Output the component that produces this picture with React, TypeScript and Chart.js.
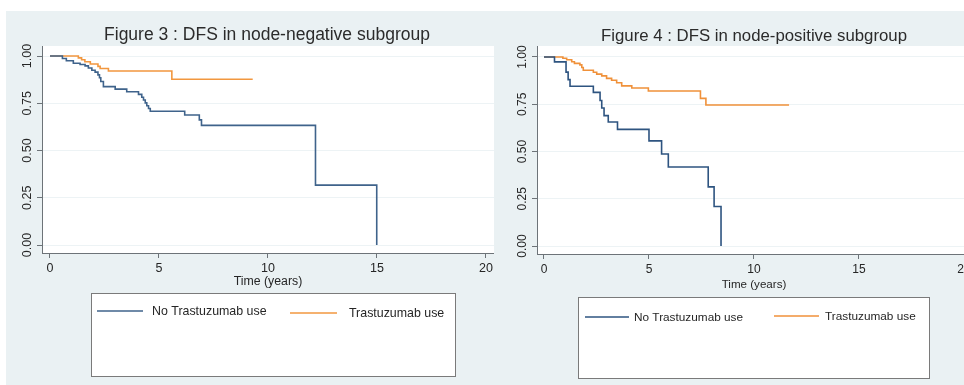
import React, { useEffect, useRef } from "react";
import { Chart, registerables } from "chart.js";

Chart.register(...registerables);

// ---- data ----
const xTicks = [0, 5, 10, 15, 20];
const yTicks = [0, 0.25, 0.5, 0.75, 1];
const yTickLabels = ["0.00", "0.25", "0.50", "0.75", "1.00"];
const seriesLabels = ["No Trastuzumab use", "Trastuzumab use"];
const titles = [
  "Figure 3 : DFS in node-negative subgroup",
  "Figure 4 : DFS in node-positive subgroup",
];
const xAxisTitle = "Time (years)";

// Figure 3 (node-negative)
const negNoTime = [0, 0.57, 0.75, 1.07, 1.38, 1.61, 1.76, 1.92, 2.07, 2.2, 2.27, 2.33, 2.45, 2.99, 3.52, 4.06, 4.21, 4.29, 4.37, 4.44, 4.52, 4.6, 6.18, 6.85, 6.95, 12.18, 14.99];
const negNoSurv = [1, 0.987, 0.975, 0.962, 0.955, 0.948, 0.937, 0.925, 0.915, 0.9, 0.885, 0.865, 0.838, 0.825, 0.811, 0.797, 0.782, 0.767, 0.752, 0.737, 0.722, 0.708, 0.688, 0.662, 0.633, 0.317, 0];
const negYesTime = [0, 1.3, 1.45, 1.6, 1.85, 2.2, 2.3, 2.68, 5.59, 9.3];
const negYesSurv = [1, 0.99, 0.98, 0.97, 0.958, 0.945, 0.934, 0.921, 0.877, 0.877];

// Figure 4 (node-positive)
const posNoTime = [0, 0.5, 1.05, 1.15, 1.24, 2.35, 2.67, 2.75, 2.86, 3.06, 3.5, 5.0, 5.6, 5.92, 7.82, 8.1, 8.43];
const posNoSurv = [1, 0.974, 0.92, 0.88, 0.845, 0.813, 0.77, 0.73, 0.69, 0.656, 0.617, 0.556, 0.487, 0.418, 0.313, 0.209, 0];
const posYesTime = [0, 0.9, 1.08, 1.32, 1.45, 1.71, 1.8, 1.87, 2.35, 2.51, 2.75, 2.98, 3.22, 3.46, 3.7, 4.18, 4.97, 7.45, 7.71, 11.67];
const posYesSurv = [1, 0.993, 0.985, 0.975, 0.966, 0.958, 0.944, 0.93, 0.919, 0.909, 0.9, 0.887, 0.877, 0.864, 0.847, 0.836, 0.82, 0.781, 0.746, 0.746];

// ---- styles ----
const BG = "#eaf1f3";
const FONT = "'Liberation Sans', Arial, Helvetica, sans-serif";
const AXIS = "#6d7378";
const GRID = "#edf3f5";
const TEXT = "#262626";

type Panel = {
  title: string;
  noTime: number[];
  noSurv: number[];
  yesTime: number[];
  yesSurv: number[];
  blue: string;
  orange: string;
  width: number;
  height: number;
  area: { left: number; top: number; right: number; bottom: number };
  xRange: [number, number];
  yRange: [number, number];
  titleFont: number;
  titlePos: [number, number];
  axisTitleFont: number;
  axisTitlePos: [number, number];
  tickFont: number;
  yLabelX: number;
  legendBox: [number, number, number, number];
  legendFont: number;
  legendItems: { x1: number; x2: number; y: number; tx: number; ty: number }[];
};

const panels: Panel[] = [
  {
    title: titles[0],
    noTime: negNoTime,
    noSurv: negNoSurv,
    yesTime: negYesTime,
    yesSurv: negYesSurv,
    blue: "#3f638b",
    orange: "#f2973f",
    width: 488,
    height: 374,
    area: { left: 36, top: 35, right: 488, bottom: 242 },
    xRange: [-0.367, 20.37],
    yRange: [-0.042, 1.053],
    titleFont: 17.5,
    titlePos: [261, 24],
    axisTitleFont: 12.3,
    axisTitlePos: [262, 271],
    tickFont: 12.5,
    yLabelX: 21.5,
    legendBox: [85, 282, 449, 365],
    legendFont: 12.4,
    legendItems: [
      { x1: 91, x2: 137, y: 300, tx: 146, ty: 300.5 },
      { x1: 284, x2: 331, y: 302, tx: 343, ty: 302.5 },
    ],
  },
  {
    title: titles[1],
    noTime: posNoTime,
    noSurv: posNoSurv,
    yesTime: posYesTime,
    yesSurv: posYesSurv,
    blue: "#2e5480",
    orange: "#f0913a",
    width: 470,
    height: 374,
    area: { left: 43, top: 35, right: 470, bottom: 243 },
    xRange: [-0.333, 20],
    yRange: [-0.042, 1.058],
    titleFont: 16.8,
    titlePos: [260, 25],
    axisTitleFont: 11.6,
    axisTitlePos: [260, 274],
    tickFont: 12,
    yLabelX: 28.5,
    legendBox: [84, 286, 435, 367],
    legendFont: 11.8,
    legendItems: [
      { x1: 91, x2: 135, y: 306, tx: 140, ty: 306.5 },
      { x1: 280, x2: 325, y: 305, tx: 331, ty: 305.5 },
    ],
  },
];

function toPoints(t: number[], s: number[]) {
  return t.map((x, i) => ({ x, y: s[i] }));
}

function PanelChart({ p, left }: { p: Panel; left: number }) {
  const ref = useRef<HTMLCanvasElement | null>(null);
  useEffect(() => {
    if (!ref.current) return;
    const deco = {
      id: "deco",
      beforeDraw(chart: any) {
        const { ctx, width, height, chartArea: a } = chart;
        ctx.save();
        ctx.fillStyle = BG;
        ctx.fillRect(0, 0, width, height);
        ctx.fillStyle = "#ffffff";
        ctx.fillRect(a.left, a.top, a.right - a.left, a.bottom - a.top);
        ctx.restore();
      },
      afterDraw(chart: any) {
        const { ctx } = chart;
        const yScale = chart.scales.y;
        ctx.save();
        // title
        ctx.fillStyle = "#2b2b2b";
        ctx.font = `${p.titleFont}px ${FONT}`;
        ctx.textAlign = "center";
        ctx.textBaseline = "middle";
        ctx.fillText(p.title, p.titlePos[0], p.titlePos[1]);
        // x axis title
        ctx.fillStyle = TEXT;
        ctx.font = `${p.axisTitleFont}px ${FONT}`;
        ctx.fillText(xAxisTitle, p.axisTitlePos[0], p.axisTitlePos[1]);
        // rotated y tick labels
        ctx.font = `${p.tickFont}px ${FONT}`;
        yTicks.forEach((v, i) => {
          const py = yScale.getPixelForValue(v);
          ctx.save();
          ctx.translate(p.yLabelX, py);
          ctx.rotate(-Math.PI / 2);
          ctx.textAlign = "center";
          ctx.textBaseline = "middle";
          ctx.fillText(yTickLabels[i], 0, 0);
          ctx.restore();
        });
        // legend
        const [bx1, by1, bx2, by2] = p.legendBox;
        ctx.fillStyle = "#ffffff";
        ctx.fillRect(bx1, by1, bx2 - bx1, by2 - by1);
        ctx.strokeStyle = "#7a7a7a";
        ctx.lineWidth = 1;
        ctx.strokeRect(bx1 + 0.5, by1 + 0.5, bx2 - bx1, by2 - by1);
        chart.data.datasets.forEach((ds: any, i: number) => {
          const it = p.legendItems[i];
          ctx.strokeStyle = ds.borderColor;
          ctx.lineWidth = 1.5;
          ctx.beginPath();
          ctx.moveTo(it.x1, it.y);
          ctx.lineTo(it.x2, it.y);
          ctx.stroke();
          ctx.fillStyle = TEXT;
          ctx.font = `${p.legendFont}px ${FONT}`;
          ctx.textAlign = "left";
          ctx.textBaseline = "middle";
          ctx.fillText(ds.label, it.tx, it.ty);
        });
        ctx.restore();
      },
    };

    const chart = new Chart(ref.current, {
      type: "line",
      data: {
        datasets: [
          {
            label: seriesLabels[0],
            data: toPoints(p.noTime, p.noSurv),
            borderColor: p.blue,
            borderWidth: 1.6,
            pointRadius: 0,
            stepped: true,
            fill: false,
          },
          {
            label: seriesLabels[1],
            data: toPoints(p.yesTime, p.yesSurv),
            borderColor: p.orange,
            borderWidth: 1.6,
            pointRadius: 0,
            stepped: true,
            fill: false,
          },
        ],
      },
      options: {
        animation: false,
        responsive: false,
        maintainAspectRatio: false,
        devicePixelRatio: 1,
        layout: {
          padding: {
            left: 0,
            right: p.width - p.area.right,
            top: p.area.top,
            bottom: p.height - p.area.bottom - 40,
          },
        },
        plugins: {
          legend: { display: false },
          title: { display: false },
          tooltip: { enabled: false },
        },
        scales: {
          x: {
            type: "linear",
            min: p.xRange[0],
            max: p.xRange[1],
            afterBuildTicks: (axis: any) => {
              axis.ticks = xTicks.map((v) => ({ value: v }));
            },
            afterFit: (axis: any) => {
              axis.height = 40;
              axis.paddingLeft = 0;
              axis.paddingRight = 0;
            },
            ticks: {
              autoSkip: false,
              maxRotation: 0,
              minRotation: 0,
              padding: 3,
              color: TEXT,
              font: { family: FONT, size: p.tickFont },
              callback: (v: any) => String(v),
            },
            grid: {
              drawOnChartArea: false,
              drawTicks: true,
              tickLength: 5,
              tickColor: AXIS,
              tickWidth: 1,
            },
            border: { display: true, color: AXIS, width: 1 },
          },
          y: {
            type: "linear",
            min: p.yRange[0],
            max: p.yRange[1],
            afterBuildTicks: (axis: any) => {
              axis.ticks = yTicks.map((v) => ({ value: v }));
            },
            afterFit: (axis: any) => {
              axis.width = p.area.left;
              axis.paddingTop = 0;
              axis.paddingBottom = 0;
            },
            ticks: { display: false },
            grid: {
              color: GRID,
              lineWidth: 1,
              drawTicks: true,
              tickLength: 5,
              tickColor: AXIS,
              tickWidth: 1,
            },
            border: { display: true, color: AXIS, width: 1 },
          },
        },
      },
      plugins: [deco],
    } as any);
    return () => chart.destroy();
  }, [p]);
  return (
    <canvas
      ref={ref}
      width={p.width}
      height={p.height}
      style={{ position: "absolute", left, top: 11, width: p.width, height: p.height }}
    />
  );
}

export default function App() {
  return (
    <div
      style={{
        position: "fixed",
        left: 0,
        top: 0,
        width: 964,
        height: 385,
        background: "#ffffff",
        overflow: "hidden",
      }}
    >
      <PanelChart p={panels[0]} left={6} />
      <PanelChart p={panels[1]} left={494} />
    </div>
  );
}
